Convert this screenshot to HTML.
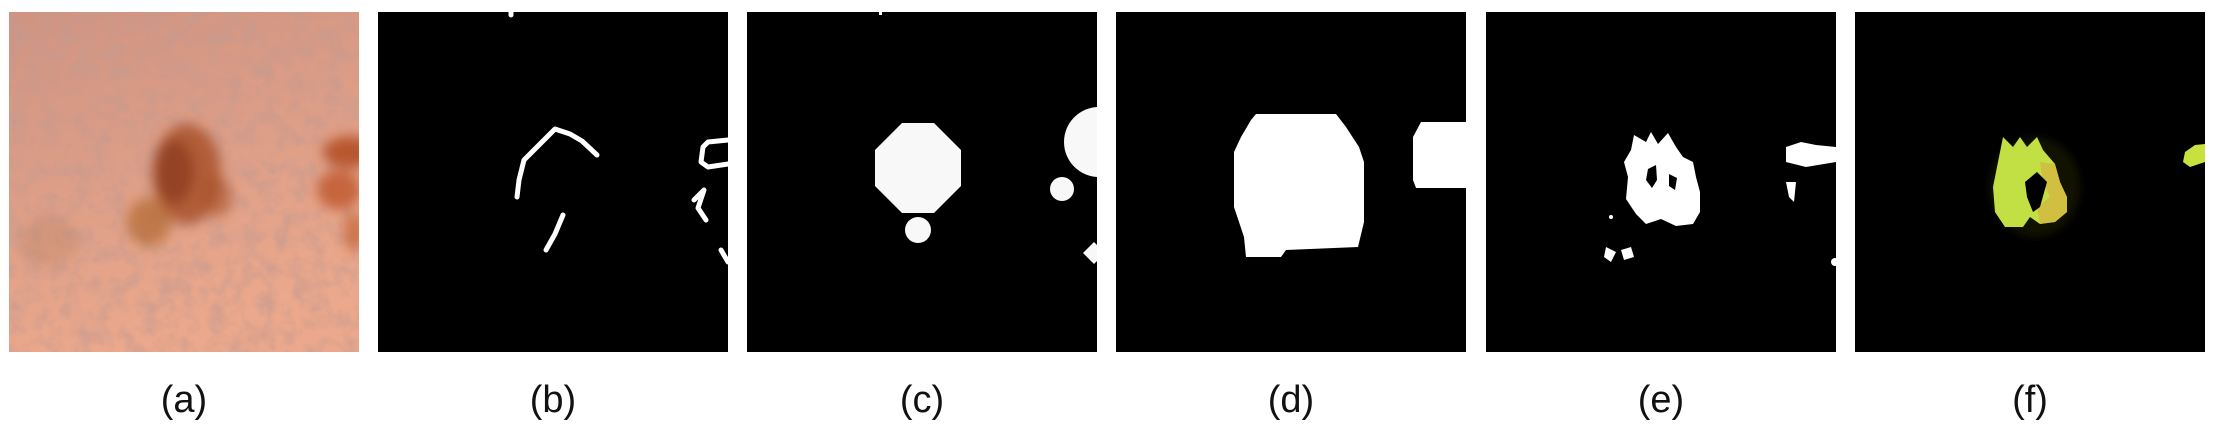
<!DOCTYPE html>
<html><head><meta charset="utf-8"><style>
html,body{margin:0;padding:0;background:#fff;width:2216px;height:430px;overflow:hidden}
svg{display:block}
text{font-family:"Liberation Sans",sans-serif;font-size:38px;fill:#111}
</style></head><body>
<svg width="2216" height="430" viewBox="0 0 2216 430">
<defs>
<filter id="bl" x="-50%" y="-50%" width="200%" height="200%"><feGaussianBlur stdDeviation="6"/></filter>
<filter id="bl2" x="-50%" y="-50%" width="200%" height="200%"><feGaussianBlur stdDeviation="4"/></filter>
<filter id="noise" x="0" y="0" width="100%" height="100%"><feTurbulence type="fractalNoise" baseFrequency="0.06" numOctaves="3" seed="3"/><feColorMatrix values="0 0 0 0 0.55  0 0 0 0 0.32  0 0 0 0 0.28  2.2 0 0 0 -0.85"/></filter>
<clipPath id="ca"><rect x="0" y="0" width="350" height="340"/></clipPath>
<linearGradient id="skin" x1="0" y1="0" x2="0.3" y2="1"><stop offset="0" stop-color="#cf9482"/><stop offset="1" stop-color="#eba88c"/></linearGradient>
</defs>

<g transform="translate(9,12)" clip-path="url(#ca)">
<rect width="350" height="340" fill="url(#skin)"/>
<rect width="350" height="340" filter="url(#noise)" opacity="0.6"/>
<g filter="url(#bl)">
<ellipse cx="178" cy="162" rx="34" ry="50" fill="#a9512a" opacity="0.85"/>
<ellipse cx="165" cy="160" rx="20" ry="32" fill="#8e3d1e" opacity="0.8"/>
<ellipse cx="140" cy="210" rx="22" ry="24" fill="#b2682e" opacity="0.7"/>
<ellipse cx="208" cy="185" rx="15" ry="20" fill="#a8502a" opacity="0.6"/>
<ellipse cx="340" cy="140" rx="26" ry="16" fill="#b24a1e" opacity="0.85"/>
<ellipse cx="330" cy="178" rx="22" ry="20" fill="#c0562a" opacity="0.8"/>
<ellipse cx="345" cy="220" rx="10" ry="20" fill="#c46030" opacity="0.7"/>
<ellipse cx="40" cy="230" rx="30" ry="25" fill="#b98060" opacity="0.35"/>
</g>
</g>

<g transform="translate(378,12)">
<rect width="350" height="340" fill="#000"/>
<g fill="none" stroke="#fff" stroke-width="5" stroke-linecap="round" stroke-linejoin="round">
<polyline points="139,185 141,168 146,148 177,117 192,122 204,129 219,143"/>
<polyline points="185,203 177,222 168,238"/>
<polyline points="350,128 330,130 325,135 323,150 330,155 350,152"/>
<polyline points="316,188 326,178 320,196 328,208"/>
<polyline points="343,238 350,250"/>
<polyline points="133,0 133,3"/>
</g>
</g>

<g transform="translate(747,12)" clip-path="url(#ca)">
<rect width="350" height="340" fill="#000"/>
<g fill="#f8f8f8">
<polygon points="155,111 187,111 214,138 214,174 187,201 155,201 128,174 128,138"/>
<circle cx="171" cy="218" r="13"/>
<circle cx="352" cy="130" r="35"/>
<circle cx="315" cy="177" r="12"/>
<polygon points="347,230 358,241 347,252 336,241"/>
<rect x="132" y="0" width="3" height="3"/>
</g>
</g>

<g transform="translate(1116,12)" clip-path="url(#ca)">
<rect width="350" height="340" fill="#000"/>
<g fill="#fff">
<polygon points="135,108 140,102 220,102 230,115 243,135 248,150 248,210 242,235 170,238 165,245 130,245 128,225 118,195 118,140 125,125"/>
<polygon points="305,110 350,110 350,176 300,176 297,168 297,125"/>
</g>
</g>

<g transform="translate(1486,12)" clip-path="url(#ca)">
<rect width="350" height="340" fill="#000"/>
<g fill="#fff">
<polygon points="148,123 160,130 165,120 172,132 182,121 190,135 197,145 207,150 210,165 214,180 214,200 207,212 190,214 175,207 160,212 150,202 140,187 142,165 138,150 145,138"/>
<polygon points="300,135 315,130 330,133 350,135 350,150 320,155 300,150"/>
<polygon points="300,170 310,170 308,190 303,185"/>
<polygon points="120,235 130,240 125,250 118,245"/>
<polygon points="135,238 145,235 148,245 138,248"/>
<circle cx="349" cy="250" r="4"/>
<circle cx="125" cy="205" r="2"/>
</g>
<g fill="#000">
<polygon points="162,157 170,153 171,168 166,176 160,168"/>
<polygon points="183,162 191,166 189,178 183,174"/>
</g>
</g>

<g transform="translate(1855,12)" clip-path="url(#ca)">
<rect width="350" height="340" fill="#000"/>
<g filter="url(#bl2)" opacity="0.85"><ellipse cx="180" cy="175" rx="45" ry="50" fill="#3a3a00" opacity="0.4"/></g>
<polygon fill="#c2e044" points="148,125 158,135 165,125 172,135 182,125 188,138 200,152 205,170 212,185 212,200 200,210 185,212 175,205 168,215 150,215 140,200 138,175 142,155 145,140"/>
<polygon fill="#d6b040" opacity="0.7" points="185,150 200,152 205,170 212,185 212,200 200,210 185,212 182,195 195,185 188,170"/>
<polygon fill="#000" points="170,170 182,160 192,170 185,195 178,200 172,185"/>
<polygon fill="#c8e040" points="330,140 340,133 350,132 350,150 335,155 328,150"/>
</g>

<g text-anchor="middle">
<text x="184" y="412">(a)</text>
<text x="553" y="412">(b)</text>
<text x="922" y="412">(c)</text>
<text x="1291" y="412">(d)</text>
<text x="1661" y="412">(e)</text>
<text x="2030" y="412">(f)</text>
</g>
</svg>
</body></html>
